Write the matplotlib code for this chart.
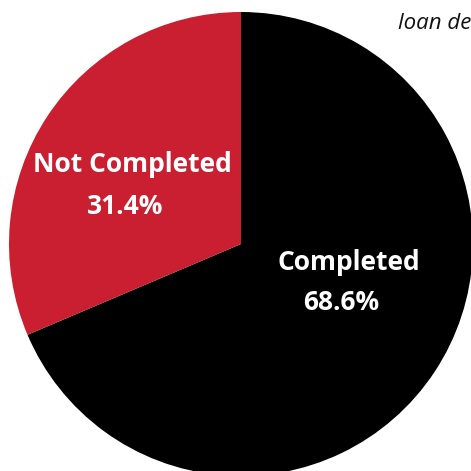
import matplotlib
matplotlib.use("Agg")
import matplotlib.pyplot as plt

labels = ["Completed", "Not Completed"]
shares = [68.6, 31.4]
colors = ["#000000", "#C91F31"]

W = H = 471
fig = plt.figure(figsize=(W / 100, H / 100), dpi=100)
ax = fig.add_axes([0, 0, 1, 1])

ax.pie(shares, colors=colors, startangle=90, counterclock=False,
       center=(241, 227), radius=232, frame=True,
       wedgeprops=dict(linewidth=0))
ax.set_xlim(0, W)
ax.set_ylim(0, H)
ax.set_aspect("equal")
ax.axis("off")

font = dict(family=["Open Sans", "DejaVu Sans"], weight="bold", color="white",
            ha="center", va="center", fontsize=19)
label_pos = {"Completed": ((349, 209), (341, 169)),
             "Not Completed": ((132, 306), (125, 265))}
for name, val in zip(labels, shares):
    (lx, ly), (vx, vy) = label_pos[name]
    ax.text(lx, ly, name, **font)
    ax.text(vx, vy, f"{val}%", **font)

ax.text(398, H - 29, "loan debt", family=["Open Sans", "DejaVu Sans"],
        style="italic", fontsize=16, color="#111111", ha="left", va="baseline",
        clip_on=False)

fig.savefig("out.png", dpi=100, facecolor="white")
